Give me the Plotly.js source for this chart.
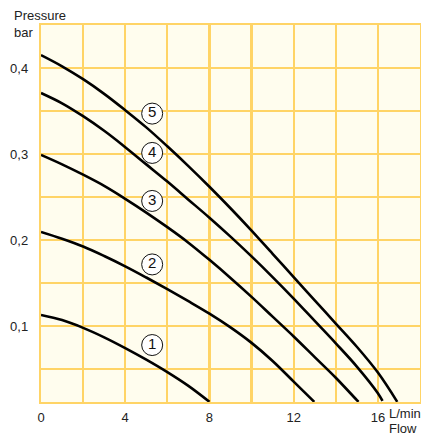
<!DOCTYPE html>
<html>
<head>
<meta charset="utf-8">
<script src="https://cdn.plot.ly/plotly-3.0.1.min.js"></script>
<style>html,body{margin:0;padding:0;background:#fff;}#chart{width:421px;height:436px;}</style>
</head>
<body>
<div id="chart"></div>
<script>
// Curve data (flow in L/min, pressure in bar)
const flow1 = [0, 1, 2, 3, 4, 5, 6, 7, 8];
const pres1 = [0.113, 0.107, 0.098, 0.087, 0.0745, 0.061, 0.0465, 0.0305, 0.012];

const flow2 = [0, 1, 2, 3, 4, 5, 6, 7, 8, 9, 10, 11, 12, 12.98];
const pres2 = [0.2095, 0.2015, 0.1925, 0.1815, 0.1695, 0.1565, 0.143, 0.129, 0.1145, 0.0985, 0.0805, 0.0595, 0.0355, 0.012];

const flow3 = [0, 1, 2, 3, 4, 5, 6, 7, 8, 9, 10, 11, 12, 13, 14, 15, 15.08];
const pres3 = [0.299, 0.288, 0.276, 0.263, 0.248, 0.232, 0.215, 0.197, 0.177, 0.156, 0.134, 0.111, 0.088, 0.064, 0.040, 0.014, 0.012];

const flow4 = [0, 1, 2, 3, 4, 5, 6, 7, 8, 9, 10, 11, 12, 13, 14, 15, 16, 16.22];
const pres4 = [0.371, 0.359, 0.344, 0.327, 0.308, 0.288, 0.268, 0.247, 0.226, 0.204, 0.181, 0.157, 0.132, 0.106, 0.080, 0.053, 0.022, 0.013];

const flow5 = [0, 1, 2, 3, 4, 5, 6, 7, 8, 9, 10, 11, 12, 13, 14, 15, 16, 16.92];
const pres5 = [0.415, 0.402, 0.387, 0.370, 0.351, 0.331, 0.309, 0.286, 0.262, 0.237, 0.211, 0.184, 0.157, 0.130, 0.103, 0.076, 0.046, 0.012];

// Curve number labels
const labelFlow = [5.28, 5.28, 5.28, 5.28, 5.28];
const labelPres = [0.078, 0.1717, 0.2455, 0.3013, 0.347];
const labelText = ["1", "2", "3", "4", "5"];

// Ticks
const xTickVals = [0, 2, 4, 6, 8, 10, 12, 14, 16, 18];
const xTickText = ["0", "", "4", "", "8", "", "12", "", "16", ""];
const yTickVals = [0.05, 0.1, 0.15, 0.2, 0.25, 0.3, 0.35, 0.4, 0.45];
const yTickText = ["", "0,1", "", "0,2", "", "0,3", "", "0,4", ""];

const gridColor = "#ffd466";
const lineStyle = {color: "#000", width: 2.6, shape: "spline", smoothing: 1};

const curves = [[flow1, pres1], [flow2, pres2], [flow3, pres3], [flow4, pres4], [flow5, pres5]];
const traces = curves.map(c => ({
  x: c[0], y: c[1], type: "scatter", mode: "lines",
  line: lineStyle, hoverinfo: "skip", showlegend: false
}));
traces.push({
  x: labelFlow, y: labelPres, text: labelText, type: "scatter", mode: "markers+text",
  marker: {size: 21, color: "#fff", line: {color: "#111", width: 1}},
  textposition: "middle center",
  textfont: {family: "Liberation Sans, Arial, sans-serif", size: 15, color: "#111"},
  hoverinfo: "skip", showlegend: false, cliponaxis: false
});

const font = {family: "Liberation Sans, Arial, sans-serif", size: 13, color: "#222"};

const layout = {
  width: 421, height: 436,
  margin: {l: 41, r: 1, t: 25, b: 34, pad: 0},
  paper_bgcolor: "#ffffff",
  plot_bgcolor: "#fffdee",
  font: font,
  showlegend: false,
  xaxis: {
    range: [0, 18], tickmode: "array", tickvals: xTickVals, ticktext: xTickText,
    showgrid: true, gridcolor: gridColor, gridwidth: 2.2,
    showline: true, linecolor: gridColor, linewidth: 2.2, mirror: true,
    zeroline: false, ticks: "", tickfont: font, ticklabelstandoff: 2, fixedrange: true
  },
  yaxis: {
    range: [0.0118, 0.45], tickmode: "array", tickvals: yTickVals, ticktext: yTickText,
    showgrid: true, gridcolor: gridColor, gridwidth: 2.2,
    showline: true, linecolor: gridColor, linewidth: 2.2, mirror: true,
    zeroline: false, ticks: "", tickfont: font, ticklabelstandoff: 8, fixedrange: true
  },
  annotations: [
    {text: "Pressure", xref: "paper", yref: "paper", x: -0.0765, y: 1.0265, xanchor: "left", yanchor: "middle", showarrow: false, font: font},
    {text: "bar", xref: "paper", yref: "paper", x: -0.0765, y: 0.9788, xanchor: "left", yanchor: "middle", showarrow: false, font: font},
    {text: "L/min", xref: "paper", yref: "paper", x: 0.913, y: -0.0292, xanchor: "left", yanchor: "middle", showarrow: false, font: font},
    {text: "Flow", xref: "paper", yref: "paper", x: 0.9974, y: -0.069, xanchor: "right", yanchor: "middle", showarrow: false, font: font}
  ]
};

Plotly.newPlot("chart", traces, layout, {displayModeBar: false, staticPlot: true});
</script>
</body>
</html>
